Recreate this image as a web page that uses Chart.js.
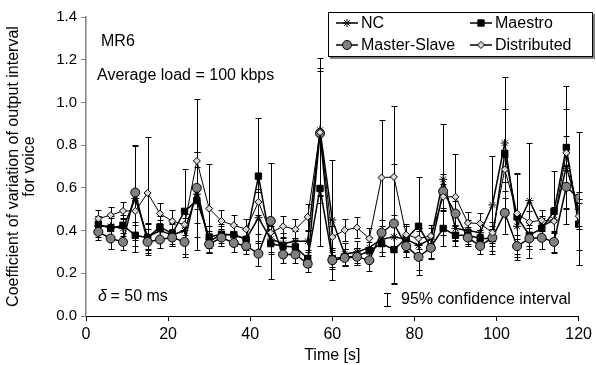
<!DOCTYPE html>
<html lang="en">
<head>
<meta charset="UTF-8">
<title>MR6 - voice output interval</title>
<script src="https://cdn.jsdelivr.net/npm/chart.js@4"></script>
<style>
  body { margin: 0; background: #fff; }
  #wrap { width: 596px; height: 365px; }
</style>
</head>
<body>
<div id="wrap"><canvas id="chart" width="596" height="365"></canvas></div>
<script>
// time axis (s)
const times = [3,6,9,12,15,18,21,24,27,30,33,36,39,42,45,48,51,54,57,60,
               63,66,69,72,75,78,81,84,87,90,93,96,99,102,105,108,111,114,117,120];
const yTicks = [0, 0.2, 0.4, 0.6, 0.8, 1.0, 1.2, 1.4];

// coefficient of variation per series
const nc = [0.42,0.42,0.41,0.55,0.37,0.40,0.38,0.40,0.57,0.35,0.38,0.38,0.36,0.46,0.36,0.34,0.35,0.35,0.87,0.45,
            0.29,0.30,0.32,0.36,0.37,0.36,0.33,0.36,0.64,0.41,0.40,0.39,0.52,0.81,0.42,0.54,0.42,0.45,0.70,0.50];
const maestro = [0.43,0.41,0.425,0.378,0.367,0.417,0.386,0.49,0.54,0.37,0.383,0.381,0.359,0.655,0.339,0.327,0.323,0.269,0.597,0.269,
                 0.275,0.28,0.305,0.339,0.311,0.363,0.42,0.323,0.41,0.378,0.378,0.363,0.363,0.761,0.464,0.378,0.41,0.49,0.789,0.43];
const masterSlave = [0.394,0.363,0.347,0.578,0.347,0.358,0.367,0.347,0.60,0.336,0.367,0.342,0.328,0.292,0.445,0.288,0.288,0.245,0.855,0.261,
                     0.272,0.277,0.261,0.39,0.433,0.327,0.277,0.319,0.584,0.48,0.367,0.328,0.367,0.483,0.327,0.363,0.366,0.347,0.605,0.55];
const distributed = [0.456,0.472,0.492,0.492,0.576,0.48,0.444,0.428,0.726,0.503,0.445,0.425,0.406,0.534,0.39,0.42,0.406,0.464,0.86,0.37,
                     0.402,0.414,0.363,0.648,0.651,0.381,0.363,0.375,0.558,0.558,0.436,0.433,0.39,0.686,0.48,0.44,0.448,0.444,0.764,0.467];

// 95% confidence half-widths
const ncErr = [0.05,0.05,0.05,0.25,0.06,0.05,0.05,0.06,0.2,0.05,0.05,0.05,0.05,0.12,0.06,0.05,0.05,0.05,0.34,0.28,
               0.05,0.05,0.05,0.06,0.07,0.06,0.07,0.05,0.26,0.06,0.05,0.05,0.23,0.31,0.06,0.27,0.05,0.06,0.27,0.08];
const maestroErr = [0.04,0.05,0.05,0.05,0.07,0.05,0.05,0.2,0.23,0.05,0.04,0.04,0.05,0.27,0.05,0.04,0.04,0.04,0.27,0.04,
                    0.04,0.04,0.04,0.06,0.16,0.06,0.23,0.05,0.08,0.05,0.04,0.04,0.06,0.21,0.2,0.05,0.05,0.19,0.29,0.12];
const masterSlaveErr = [0.04,0.05,0.04,0.22,0.06,0.04,0.04,0.07,0.1,0.04,0.04,0.04,0.04,0.06,0.27,0.04,0.04,0.04,0.29,0.04,
                        0.04,0.04,0.05,0.06,0.28,0.05,0.06,0.05,0.08,0.06,0.04,0.04,0.04,0.1,0.05,0.05,0.05,0.05,0.1,0.31];
const distributedErr = [0.04,0.04,0.04,0.05,0.26,0.05,0.05,0.05,0.29,0.21,0.05,0.05,0.05,0.06,0.05,0.05,0.05,0.06,0.3,0.05,
                        0.05,0.05,0.05,0.27,0.33,0.05,0.05,0.05,0.06,0.2,0.05,0.05,0.05,0.06,0.19,0.05,0.05,0.05,0.08,0.06];

const FONT = '"Liberation Sans", Arial, sans-serif';

function pts(vals) {
    return vals.map((v, i) => ({ x: times[i], y: v }));
}

// error bars under the lines
const errorBars = {
    id: 'errorBars',
    beforeDatasetsDraw(chart) {
        const ctx = chart.ctx, xs = chart.scales.x, ys = chart.scales.y;
        ctx.save();
        ctx.strokeStyle = '#000';
        ctx.lineWidth = 1;
        chart.data.datasets.forEach(ds => {
            ds.data.forEach((p, i) => {
                const e = ds.err[i];
                const x = Math.round(xs.getPixelForValue(p.x)) + 0.5;
                const top = Math.round(ys.getPixelForValue(p.y + e)) + 0.5;
                const bot = Math.round(ys.getPixelForValue(p.y - e)) + 0.5;
                ctx.beginPath();
                ctx.moveTo(x, top); ctx.lineTo(x, bot);
                ctx.moveTo(x - 3, top); ctx.lineTo(x + 3, top);
                ctx.moveTo(x - 3, bot); ctx.lineTo(x + 3, bot);
                ctx.stroke();
            });
        });
        ctx.restore();
    }
};

// legend box, notes
const extras = {
    id: 'extras',
    afterDraw(chart) {
        const ctx = chart.ctx;
        const H = Chart.helpers;
        ctx.save();
        // legend
        ctx.fillStyle = '#808080';
        ctx.fillRect(330, 14, 265, 45);
        ctx.fillStyle = '#fff';
        ctx.fillRect(328, 12, 265, 45);
        ctx.strokeStyle = '#000';
        ctx.lineWidth = 1;
        ctx.strokeRect(328.5, 12.5, 264, 44);

        const slots = [[336, 23], [336, 45], [470, 23], [470, 45]];
        const order = [0, 2, 1, 3];
        ctx.font = '16px ' + FONT;
        ctx.textBaseline = 'middle';
        order.forEach((di, k) => {
            const ds = chart.data.datasets[di];
            const [sx, sy] = slots[k];
            ctx.strokeStyle = '#000';
            ctx.lineWidth = 1.5;
            ctx.beginPath();
            ctx.moveTo(sx, sy); ctx.lineTo(sx + 22, sy);
            ctx.stroke();
            ctx.fillStyle = ds.pointBackgroundColor;
            ctx.strokeStyle = ds.pointBorderColor;
            ctx.lineWidth = ds.pointBorderWidth;
            H.drawPoint(ctx, { pointStyle: ds.pointStyle, radius: ds.pointRadius, rotation: 0, borderWidth: ds.pointBorderWidth }, sx + 11, sy);
            ctx.fillStyle = '#000';
            ctx.fillText(ds.label, sx + 25, sy + 1);
        });

        // notes
        ctx.fillStyle = '#000';
        ctx.fillText('MR6', 101, 42);
        ctx.fillText('Average load = 100 kbps', 97, 76);
        ctx.font = 'italic 16px ' + FONT;
        ctx.fillText('\u03B4', 98, 297);
        ctx.font = '16px ' + FONT;
        ctx.fillText(' = 50 ms', 106, 297);
        ctx.fillText('95% confidence interval', 401, 300);
        ctx.strokeStyle = '#000';
        ctx.lineWidth = 1;
        ctx.beginPath();
        ctx.moveTo(387.5, 293); ctx.lineTo(387.5, 307);
        ctx.moveTo(384, 293.5); ctx.lineTo(391, 293.5);
        ctx.moveTo(384, 306.5); ctx.lineTo(391, 306.5);
        ctx.stroke();
        ctx.restore();
    }
};

const ctx = document.getElementById('chart').getContext('2d');
new Chart(ctx, {
    type: 'line',
    data: {
        datasets: [
            {
                label: 'NC', data: pts(nc), err: ncErr, order: 3,
                borderColor: '#000', borderWidth: 1.5,
                pointStyle: 'star', pointRadius: 4, pointBorderWidth: 1,
                pointBackgroundColor: '#000', pointBorderColor: '#000'
            },
            {
                label: 'Maestro', data: pts(maestro), err: maestroErr, order: 2,
                borderColor: '#000', borderWidth: 1.5,
                pointStyle: 'rect', pointRadius: 4.5, pointBorderWidth: 1,
                pointBackgroundColor: '#000', pointBorderColor: '#000'
            },
            {
                label: 'Master-Slave', data: pts(masterSlave), err: masterSlaveErr, order: 1,
                borderColor: '#000', borderWidth: 1.5,
                pointStyle: 'circle', pointRadius: 4.5, pointBorderWidth: 1,
                pointBackgroundColor: '#808080', pointBorderColor: '#000'
            },
            {
                label: 'Distributed', data: pts(distributed), err: distributedErr, order: 0,
                borderColor: '#000', borderWidth: 1,
                pointStyle: 'rectRot', pointRadius: 3.5, pointBorderWidth: 1,
                pointBackgroundColor: '#d8d8d8', pointBorderColor: '#000'
            }
        ]
    },
    options: {
        responsive: false,
        animation: false,
        layout: { padding: { top: 17, right: 14, left: 0, bottom: 0 } },
        plugins: { legend: { display: false }, tooltip: { enabled: false } },
        elements: { line: { tension: 0 } },
        scales: {
            x: {
                type: 'linear', min: 0, max: 120,
                afterFit(s) { s.height = 49; },
                ticks: { stepSize: 20, color: '#000', font: { family: FONT, size: 16 }, padding: 4, maxRotation: 0 },
                grid: { drawOnChartArea: false, tickLength: 5, color: '#000' },
                border: { color: '#000', width: 1 },
                title: { display: true, text: 'Time [s]', color: '#000', font: { family: FONT, size: 16 }, padding: { top: 0, bottom: 0 } }
            },
            y: {
                min: 0, max: 1.4,
                afterFit(s) { s.width = 86; },
                afterBuildTicks(s) { s.ticks = yTicks.map(v => ({ value: v })); },
                ticks: { color: '#000', font: { family: FONT, size: 15 }, padding: 4, callback: v => v.toFixed(1) },
                grid: { drawOnChartArea: false, tickLength: 5, color: '#808080' },
                border: { color: '#808080', width: 1.5 },
                title: {
                    display: true,
                    text: ['Coefficient of variation of output interval', 'for voice'],
                    color: '#000', font: { family: FONT, size: 16, lineHeight: 1.0 }, padding: { top: 6, bottom: 0 }
                }
            }
        }
    },
    plugins: [errorBars, extras]
});
</script>
</body>
</html>
